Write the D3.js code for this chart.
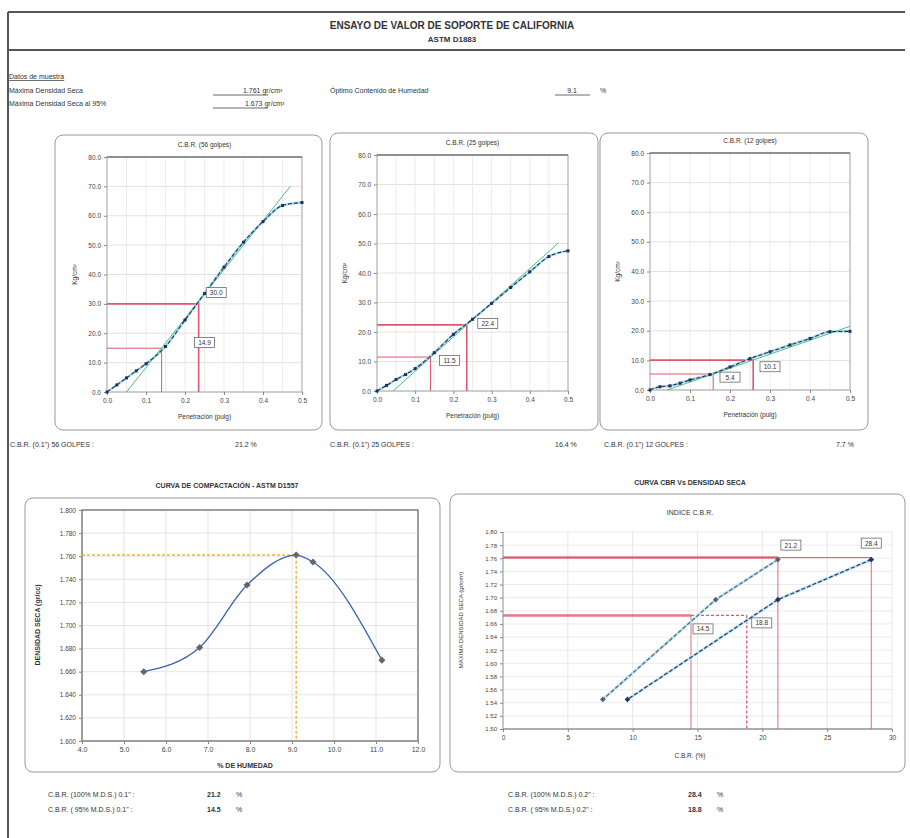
<!DOCTYPE html>
<html>
<head>
<meta charset="utf-8">
<script src="https://cdn.jsdelivr.net/npm/d3@7"></script>
<style>
  body { margin: 0; background: #fff; }
  svg { font-family: "Liberation Sans", Arial, sans-serif; }
  .tick text { fill: #444; }
  .tick line { stroke: #888; }
</style>
</head>
<body>
<svg id="hoja" width="910" height="838"></svg>
<script>
// penetracion (pulg) y cargas (kg/cm2) para cada molde
var penetracion = [0, 0.025, 0.05, 0.075, 0.1, 0.15, 0.2, 0.25, 0.3, 0.35, 0.4, 0.45, 0.5];
var carga56 = [0, 2.4, 4.8, 7.2, 9.6, 15.5, 24.5, 33.5, 42.5, 51.0, 58.0, 63.5, 64.5];
var carga25 = [0, 1.9, 3.9, 5.6, 7.6, 13.0, 19.2, 24.3, 29.7, 35.1, 40.4, 45.6, 47.5];
var carga12 = [0, 1.1, 1.4, 2.3, 3.4, 5.2, 7.8, 10.6, 12.9, 15.2, 17.4, 19.7, 19.8];

// rectas de correccion (tangentes)
var tanX56 = [0.05, 0.47], tanY56 = [0, 70];
var tanX25 = [0.042, 0.475], tanY25 = [0, 50.2];
var tanX12 = [0.043, 0.5], tanY12 = [0, 21.5];

// penetraciones corregidas (0.1" y 0.2") y cargas leidas
var corrPen56 = [0.14, 0.235], corrCarga56 = [14.9, 30.0];
var corrPen25 = [0.14, 0.235], corrCarga25 = [11.5, 22.4];
var corrPen12 = [0.158, 0.258], corrCarga12 = [5.4, 10.1];

var cargaTicks = [0, 10, 20, 30, 40, 50, 60, 70, 80];
var penTicks = [0, 0.1, 0.2, 0.3, 0.4, 0.5];

// compactacion
var humedad = [5.47, 6.80, 7.93, 9.10, 9.50, 11.14];
var densidad = [1.660, 1.681, 1.735, 1.761, 1.755, 1.670];
var humTicks = [4, 5, 6, 7, 8, 9, 10, 11, 12];
var densTicks = [1.60, 1.62, 1.64, 1.66, 1.68, 1.70, 1.72, 1.74, 1.76, 1.78, 1.80];
var mds = 1.761, och = 9.1, mds95 = 1.673;

// CBR vs densidad seca (56, 25, 12 golpes)
var densGolpes = [1.758, 1.697, 1.545];
var cbr01 = [21.2, 16.4, 7.7];
var cbr02 = [28.4, 21.2, 9.6];
var cbrTicks = [0, 5, 10, 15, 20, 25, 30];
var densTicks2 = [1.50, 1.52, 1.54, 1.56, 1.58, 1.60, 1.62, 1.64, 1.66, 1.68, 1.70, 1.72, 1.74, 1.76, 1.78, 1.80];
var cbr100 = [21.2, 28.4], cbr95 = [14.5, 18.8];

var svg = d3.select("#hoja");
var ink = "#333";

// ---------- encabezado ----------
svg.append("line").attr("x1", 8).attr("x2", 905).attr("y1", 12).attr("y2", 12)
    .attr("stroke", "#555").attr("stroke-width", 2);
svg.append("line").attr("x1", 8).attr("x2", 905).attr("y1", 50).attr("y2", 50)
    .attr("stroke", "#555").attr("stroke-width", 2);
svg.append("line").attr("x1", 8).attr("x2", 8).attr("y1", 12).attr("y2", 838)
    .attr("stroke", "#555").attr("stroke-width", 2);

svg.append("text").attr("x", 452).attr("y", 29).attr("text-anchor", "middle")
    .attr("font-size", 10).attr("font-weight", "bold").attr("fill", ink)
    .text("ENSAYO DE VALOR DE SOPORTE DE CALIFORNIA");
svg.append("text").attr("x", 452).attr("y", 42).attr("text-anchor", "middle")
    .attr("font-size", 8).attr("font-weight", "bold").attr("fill", ink)
    .text("ASTM D1883");

function texto(x, y, t, size, opts) {
    var el = svg.append("text").attr("x", x).attr("y", y)
        .attr("font-size", size || 7.5).attr("fill", ink).text(t);
    if (opts && opts.bold) el.attr("font-weight", "bold");
    if (opts && opts.anchor) el.attr("text-anchor", opts.anchor);
    if (opts && opts.underline) el.attr("text-decoration", "underline");
    return el;
}
function subrayado(x1, x2, y) {
    svg.append("line").attr("x1", x1).attr("x2", x2).attr("y1", y).attr("y2", y)
        .attr("stroke", "#444").attr("stroke-width", 0.8);
}

texto(9, 79, "Datos de muestra", 7, {underline: true});
texto(9, 93, "Máxima Densidad Seca", 7);
texto(9, 106, "Máxima Densidad Seca  al 95%", 7);
texto(243, 93, d3.format(".3f")(mds) + " gr/cm³", 7);
texto(245, 106, d3.format(".3f")(mds95) + " gr/cm³", 7);
subrayado(213, 268, 95);
subrayado(213, 268, 108);
texto(330, 93, "Óptimo Contenido de Humedad", 7);
texto(572, 93, d3.format(".1f")(och), 7, {anchor: "middle"});
texto(600, 93, "%", 7);
subrayado(555, 590, 95);

// ---------- graficos de penetracion ----------
function panel(x, y, w, h) {
    svg.append("rect").attr("x", x).attr("y", y).attr("width", w).attr("height", h)
        .attr("rx", 8).attr("fill", "none").attr("stroke", "#999").attr("stroke-width", 1);
}

function cajaValor(g, x, y, valor) {
    var c = g.append("g");
    c.append("rect").attr("x", x - 10).attr("y", y - 7.5).attr("width", 20).attr("height", 10)
        .attr("fill", "#fff").attr("stroke", "#555").attr("stroke-width", 0.7);
    c.append("text").attr("x", x).attr("y", y).attr("font-size", 6.5)
        .attr("fill", ink).attr("text-anchor", "middle").text(d3.format(".1f")(valor));
}

function graficoCBR(cfg) {
    panel(cfg.panel[0], cfg.panel[1], cfg.panel[2], cfg.panel[3]);
    var x = d3.scaleLinear().domain([0, 0.5]).range([cfg.plot[0], cfg.plot[1]]);
    var y = d3.scaleLinear().domain([0, 80]).range([cfg.plot[3], cfg.plot[2]]);
    var g = svg.append("g");

    // rejilla
    g.append("g").selectAll("line").data(cargaTicks).enter().append("line")
        .attr("x1", x(0)).attr("x2", x(0.5))
        .attr("y1", function(d) { return y(d); }).attr("y2", function(d) { return y(d); })
        .attr("stroke", "#e2e2e2");
    g.append("g").selectAll("line").data(d3.range(0, 0.51, 0.05)).enter().append("line")
        .attr("y1", y(0)).attr("y2", y(80))
        .attr("x1", function(d) { return x(d); }).attr("x2", function(d) { return x(d); })
        .attr("stroke", "#ececec");
    g.append("rect").attr("x", x(0)).attr("y", y(80)).attr("width", x(0.5) - x(0))
        .attr("height", y(0) - y(80)).attr("fill", "none").attr("stroke", "#aaa");
    g.append("line").attr("x1", x(0)).attr("x2", x(0.5)).attr("y1", y(80)).attr("y2", y(80))
        .attr("stroke", "#555").attr("stroke-width", 1.2);

    g.append("g").attr("transform", "translate(0," + y(0) + ")")
        .call(d3.axisBottom(x).tickValues(penTicks).tickFormat(d3.format(".1f")).tickSize(3))
        .attr("font-size", 6.5).call(function(a) { a.select(".domain").remove(); });
    g.append("g").attr("transform", "translate(" + x(0) + ",0)")
        .call(d3.axisLeft(y).tickValues(cargaTicks).tickFormat(d3.format(".1f")).tickSize(3))
        .attr("font-size", 6.5).call(function(a) { a.select(".domain").remove(); });

    g.append("text").attr("x", (cfg.plot[0] + cfg.plot[1]) / 2).attr("y", cfg.plot[2] - 10)
        .attr("text-anchor", "middle").attr("font-size", 6.5).attr("fill", ink).text(cfg.titulo);
    g.append("text").attr("x", (cfg.plot[0] + cfg.plot[1]) / 2).attr("y", cfg.plot[3] + 27)
        .attr("text-anchor", "middle").attr("font-size", 6.5).attr("fill", ink).text("Penetración (pulg)");
    g.append("text").attr("transform", "translate(" + (cfg.plot[0] - 30) + "," + ((cfg.plot[2] + cfg.plot[3]) / 2) + ") rotate(-90)")
        .attr("text-anchor", "middle").attr("font-size", 6.5).attr("fill", ink).text("Kg/cm²");

    // lineas de lectura
    cfg.corrPen.forEach(function(p, i) {
        var c = cfg.corrCarga[i];
        g.append("path")
            .attr("d", "M" + x(0) + "," + y(c) + "H" + x(p) + "V" + y(0))
            .attr("fill", "none").attr("stroke", "#e0566e").attr("stroke-width", i === 1 ? 1.6 : 1);
    });

    var tan = cfg.tanX.map(function(d, i) { return [d, cfg.tanY[i]]; });
    var datos = penetracion.map(function(d, i) { return [d, cfg.carga[i]]; });
    var linea = d3.line().x(function(d) { return x(d[0]); }).y(function(d) { return y(d[1]); });

    g.append("path").datum(datos).attr("d", linea.curve(d3.curveMonotoneX))
        .attr("fill", "none").attr("stroke", "#a8dcea").attr("stroke-width", 2.5);
    g.append("path").datum(tan).attr("d", d3.line().x(function(d) { return x(d[0]); }).y(function(d) { return y(d[1]); }))
        .attr("fill", "none").attr("stroke", "#4fbf86").attr("stroke-width", 1);
    g.append("path").datum(datos).attr("d", linea)
        .attr("fill", "none").attr("stroke", "#203060").attr("stroke-width", 1.1)
        .attr("stroke-dasharray", "4,2");
    g.selectAll(".pt").data(datos).enter().append("rect")
        .attr("x", function(d) { return x(d[0]) - 1.5; }).attr("y", function(d) { return y(d[1]) - 1.5; })
        .attr("width", 3).attr("height", 3).attr("fill", "#203060");

    cfg.cajas.forEach(function(c, i) {
        cajaValor(g, x(c[0]), y(c[1]), cfg.corrCarga[i]);
    });
}

graficoCBR({panel: [55, 135, 267, 295], plot: [107, 302, 157, 392], titulo: "C.B.R. (56 golpes)",
    carga: carga56, tanX: tanX56, tanY: tanY56, corrPen: corrPen56, corrCarga: corrCarga56,
    cajas: [[0.25, 16], [0.28, 33]]});
graficoCBR({panel: [330, 133, 268, 297], plot: [377, 568, 155, 391], titulo: "C.B.R. (25 golpes)",
    carga: carga25, tanX: tanX25, tanY: tanY25, corrPen: corrPen25, corrCarga: corrCarga25,
    cajas: [[0.19, 9.5], [0.29, 22]]});
graficoCBR({panel: [600, 133, 268, 297], plot: [650, 850, 153, 390], titulo: "C.B.R. (12 golpes)",
    carga: carga12, tanX: tanX12, tanY: tanY12, corrPen: corrPen12, corrCarga: corrCarga12,
    cajas: [[0.2, 3.5], [0.3, 7]]});

texto(10, 447, "C.B.R. (0.1\") 56 GOLPES :", 7);
texto(235, 447, d3.format(".1f")(cbr01[0]) + " %", 7);
texto(330, 447, "C.B.R. (0.1\") 25 GOLPES :", 7);
texto(555, 447, d3.format(".1f")(cbr01[1]) + " %", 7);
texto(604, 447, "C.B.R. (0.1\") 12 GOLPES :", 7);
texto(836, 447, d3.format(".1f")(cbr01[2]) + " %", 7);

// ---------- curva de compactacion ----------
(function() {
    var x = d3.scaleLinear().domain([4, 12]).range([82, 418]);
    var y = d3.scaleLinear().domain([1.60, 1.80]).range([741, 510]);
    panel(25, 498, 415, 274);
    texto(227, 488, "CURVA DE COMPACTACIÓN - ASTM D1557", 7, {bold: true, anchor: "middle"});
    var g = svg.append("g");
    g.selectAll(".gh").data(densTicks).enter().append("line")
        .attr("x1", x(4)).attr("x2", x(12))
        .attr("y1", function(d) { return y(d); }).attr("y2", function(d) { return y(d); })
        .attr("stroke", "#e4e4e4");
    g.selectAll(".gv").data(humTicks).enter().append("line")
        .attr("y1", y(1.6)).attr("y2", y(1.8))
        .attr("x1", function(d) { return x(d); }).attr("x2", function(d) { return x(d); })
        .attr("stroke", "#e4e4e4");
    g.append("rect").attr("x", x(4)).attr("y", y(1.8)).attr("width", x(12) - x(4))
        .attr("height", y(1.6) - y(1.8)).attr("fill", "none").attr("stroke", "#666").attr("stroke-width", 1.2);
    g.append("g").attr("transform", "translate(0," + y(1.6) + ")")
        .call(d3.axisBottom(x).tickValues(humTicks).tickFormat(d3.format(".1f")).tickSize(3))
        .attr("font-size", 7).call(function(a) { a.select(".domain").remove(); });
    g.append("g").attr("transform", "translate(" + x(4) + ",0)")
        .call(d3.axisLeft(y).tickValues(densTicks).tickFormat(d3.format(".3f")).tickSize(3))
        .attr("font-size", 6.5).call(function(a) { a.select(".domain").remove(); });

    g.append("path").attr("d", "M" + x(4) + "," + y(mds) + "H" + x(och) + "V" + y(1.6))
        .attr("fill", "none").attr("stroke", "#f2b43c").attr("stroke-width", 1.5)
        .attr("stroke-dasharray", "3,2");

    var pts = humedad.map(function(d, i) { return [d, densidad[i]]; });
    g.append("path").datum(pts)
        .attr("d", d3.line().x(function(d) { return x(d[0]); }).y(function(d) { return y(d[1]); }).curve(d3.curveMonotoneX))
        .attr("fill", "none").attr("stroke", "#3a62b0").attr("stroke-width", 1.3);
    g.selectAll(".pc").data(pts).enter().append("rect")
        .attr("x", function(d) { return x(d[0]) - 2.5; }).attr("y", function(d) { return y(d[1]) - 2.5; })
        .attr("width", 5).attr("height", 5).attr("fill", "#666")
        .attr("transform", function(d) { return "rotate(45," + x(d[0]) + "," + y(d[1]) + ")"; });

    texto(245, 768, "% DE HUMEDAD", 7, {bold: true, anchor: "middle"});
    svg.append("text").attr("transform", "translate(40,625) rotate(-90)").attr("text-anchor", "middle")
        .attr("font-size", 7).attr("font-weight", "bold").attr("fill", ink).text("DENSIDAD SECA (gr/cc)");
})();

// ---------- CBR vs densidad seca ----------
(function() {
    var x = d3.scaleLinear().domain([0, 30]).range([503, 892]);
    var y = d3.scaleLinear().domain([1.50, 1.80]).range([729, 532]);
    panel(450, 494, 455, 278);
    texto(690, 485, "CURVA CBR Vs DENSIDAD SECA", 7, {bold: true, anchor: "middle"});
    texto(690, 515, "INDICE C.B.R.", 7, {anchor: "middle"});
    var g = svg.append("g");
    g.selectAll(".gh").data(densTicks2).enter().append("line")
        .attr("x1", x(0)).attr("x2", x(30))
        .attr("y1", function(d) { return y(d); }).attr("y2", function(d) { return y(d); })
        .attr("stroke", "#ececec");
    g.selectAll(".gv").data(cbrTicks).enter().append("line")
        .attr("y1", y(1.5)).attr("y2", y(1.8))
        .attr("x1", function(d) { return x(d); }).attr("x2", function(d) { return x(d); })
        .attr("stroke", "#e6e6e6");
    g.append("line").attr("x1", x(0)).attr("x2", x(30)).attr("y1", y(1.5)).attr("y2", y(1.5)).attr("stroke", "#666");
    g.append("line").attr("x1", x(0)).attr("x2", x(0)).attr("y1", y(1.5)).attr("y2", y(1.8)).attr("stroke", "#999");
    g.append("g").attr("transform", "translate(0," + y(1.5) + ")")
        .call(d3.axisBottom(x).tickValues(cbrTicks).tickFormat(d3.format("d")).tickSize(3))
        .attr("font-size", 6.5).call(function(a) { a.select(".domain").remove(); });
    g.append("g").attr("transform", "translate(" + x(0) + ",0)")
        .call(d3.axisLeft(y).tickValues(densTicks2).tickFormat(d3.format(".2f")).tickSize(3))
        .attr("font-size", 6).call(function(a) { a.select(".domain").remove(); });

    var roja = "#e0566e";
    // 100% MDS
    g.append("line").attr("x1", x(0)).attr("x2", x(cbr100[1])).attr("y1", y(mds)).attr("y2", y(mds))
        .attr("stroke", roja).attr("stroke-width", 1);
    g.append("line").attr("x1", x(0)).attr("x2", x(cbr100[0])).attr("y1", y(mds)).attr("y2", y(mds))
        .attr("stroke", roja).attr("stroke-width", 2.5).attr("opacity", 0.8);
    cbr100.forEach(function(c) {
        g.append("line").attr("x1", x(c)).attr("x2", x(c)).attr("y1", y(mds)).attr("y2", y(1.5))
            .attr("stroke", roja).attr("stroke-width", 0.9);
    });
    // 95% MDS
    g.append("line").attr("x1", x(0)).attr("x2", x(cbr95[0])).attr("y1", y(mds95)).attr("y2", y(mds95))
        .attr("stroke", roja).attr("stroke-width", 2.5).attr("opacity", 0.8);
    g.append("line").attr("x1", x(cbr95[0])).attr("x2", x(cbr95[1])).attr("y1", y(mds95)).attr("y2", y(mds95))
        .attr("stroke", roja).attr("stroke-width", 1.3).attr("stroke-dasharray", "3,2");
    g.append("line").attr("x1", x(cbr95[0])).attr("x2", x(cbr95[0])).attr("y1", y(mds95)).attr("y2", y(1.5))
        .attr("stroke", roja).attr("stroke-width", 0.9);
    g.append("line").attr("x1", x(cbr95[1])).attr("x2", x(cbr95[1])).attr("y1", y(mds95)).attr("y2", y(1.5))
        .attr("stroke", roja).attr("stroke-width", 1.3).attr("stroke-dasharray", "3,2");

    var linea = d3.line().x(function(d) { return x(d[0]); }).y(function(d) { return y(d[1]); });
    [[cbr01, "#56607a"], [cbr02, "#1f3570"]].forEach(function(s) {
        var pts = s[0].map(function(c, i) { return [c, densGolpes[i]]; });
        g.append("path").datum(pts).attr("d", linea).attr("fill", "none")
            .attr("stroke", "#bfe6f0").attr("stroke-width", 3);
        g.append("path").datum(pts).attr("d", linea).attr("fill", "none")
            .attr("stroke", s[1]).attr("stroke-width", 1.2).attr("stroke-dasharray", "4,2");
        g.selectAll(null).data(pts).enter().append("rect")
            .attr("x", function(d) { return x(d[0]) - 2; }).attr("y", function(d) { return y(d[1]) - 2; })
            .attr("width", 4).attr("height", 4).attr("fill", s[1])
            .attr("transform", function(d) { return "rotate(45," + x(d[0]) + "," + y(d[1]) + ")"; });
    });

    cajaValor(g, x(cbr100[0]) + 13, y(mds) - 10, cbr100[0]);
    cajaValor(g, x(cbr100[1]), y(mds) - 12, cbr100[1]);
    cajaValor(g, x(cbr95[0]) + 12, y(mds95) + 16, cbr95[0]);
    cajaValor(g, x(cbr95[1]) + 15, y(mds95) + 10, cbr95[1]);

    texto(690, 758, "C.B.R. (%)", 6.5, {anchor: "middle"});
    svg.append("text").attr("transform", "translate(463,620) rotate(-90)").attr("text-anchor", "middle")
        .attr("font-size", 6).attr("fill", ink).text("MAXIMA DENSIDAD SECA (gr/cm³)");
})();

// ---------- resultados ----------
texto(48, 797, "C.B.R. (100% M.D.S.) 0.1\" :", 7);
texto(207, 797, d3.format(".1f")(cbr100[0]), 7, {bold: true});
texto(236, 797, "%", 7);
texto(48, 812, "C.B.R. (  95% M.D.S.) 0.1\" :", 7);
texto(207, 812, d3.format(".1f")(cbr95[0]), 7, {bold: true});
texto(236, 812, "%", 7);
texto(508, 797, "C.B.R. (100% M.D.S.) 0.2\" :", 7);
texto(688, 797, d3.format(".1f")(cbr100[1]), 7, {bold: true});
texto(717, 797, "%", 7);
texto(508, 812, "C.B.R. (  95% M.D.S.) 0.2\" :", 7);
texto(688, 812, d3.format(".1f")(cbr95[1]), 7, {bold: true});
texto(717, 812, "%", 7);
</script>
</body>
</html>
